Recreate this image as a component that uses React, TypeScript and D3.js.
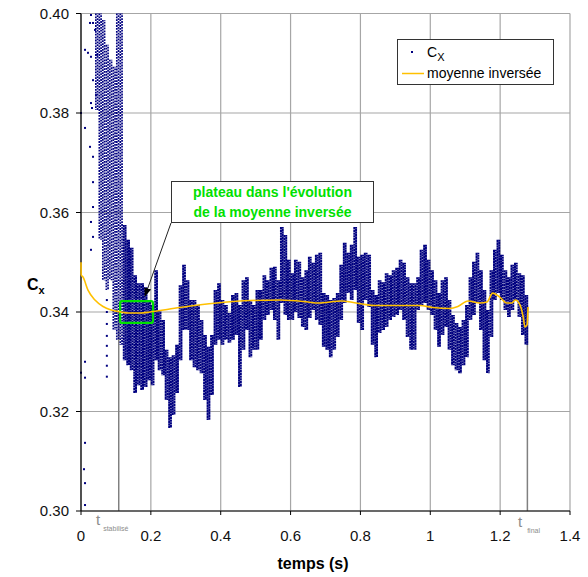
import React from "react";
import * as d3 from "d3";

// ---- data ----
const xTicks = [0, 0.2, 0.4, 0.6, 0.8, 1, 1.2, 1.4];
const xTickLabels = ["0", "0.2", "0.4", "0.6", "0.8", "1", "1.2", "1.4"];
const yTicks = [0.3, 0.32, 0.34, 0.36, 0.38, 0.4];
const yTickLabels = ["0.30", "0.32", "0.34", "0.36", "0.38", "0.40"];

// Cx envelope per 0.01 s bin: [bin start t, highest value, lowest value]
const binStart = [
  0.04, 0.05, 0.06, 0.07, 0.08, 0.09, 0.1, 0.11, 0.12, 0.13, 0.14, 0.15, 0.16, 0.17, 0.18, 0.19,
  0.2, 0.21, 0.22, 0.23, 0.24, 0.25, 0.26, 0.27, 0.28, 0.29, 0.3, 0.31, 0.32, 0.33, 0.34, 0.35,
  0.36, 0.37, 0.38, 0.39, 0.4, 0.41, 0.42, 0.43, 0.44, 0.45, 0.46, 0.47, 0.48, 0.49, 0.5, 0.51,
  0.52, 0.53, 0.54, 0.55, 0.56, 0.57, 0.58, 0.59, 0.6, 0.61, 0.62, 0.63, 0.64, 0.65, 0.66, 0.67,
  0.68, 0.69, 0.7, 0.71, 0.72, 0.73, 0.74, 0.75, 0.76, 0.77, 0.78, 0.79, 0.8, 0.81, 0.82, 0.83,
  0.84, 0.85, 0.86, 0.87, 0.88, 0.89, 0.9, 0.91, 0.92, 0.93, 0.94, 0.95, 0.96, 0.97, 0.98, 0.99,
  1.0, 1.01, 1.02, 1.03, 1.04, 1.05, 1.06, 1.07, 1.08, 1.09, 1.1, 1.11, 1.12, 1.13, 1.14, 1.15,
  1.16, 1.17, 1.18, 1.19, 1.2, 1.21, 1.22, 1.23, 1.24, 1.25, 1.26, 1.27,
];
const binHigh = [
  0.4, 0.4, 0.3987, 0.3937, 0.3907, 0.3893, 0.4, 0.4, 0.3575, 0.3545, 0.3529, 0.3474, 0.3458, 0.3458, 0.345, 0.3424,
  0.3414, 0.3484, 0.3404, 0.3384, 0.3324, 0.3309, 0.3313, 0.3334, 0.3454, 0.3495, 0.3464, 0.3424, 0.3424, 0.3414, 0.3384, 0.3354,
  0.333, 0.3354, 0.3444, 0.3458, 0.3424, 0.3414, 0.3398, 0.3434, 0.3438, 0.3414, 0.3464, 0.347, 0.3424, 0.3414, 0.3444, 0.3444,
  0.3474, 0.3464, 0.3489, 0.3491, 0.3464, 0.3571, 0.3555, 0.3505, 0.3478, 0.3505, 0.3501, 0.347, 0.3484, 0.3511, 0.3499, 0.3515,
  0.3519, 0.3438, 0.3434, 0.3424, 0.3428, 0.3438, 0.3495, 0.3539, 0.3519, 0.3535, 0.3571, 0.3511, 0.3515, 0.3519, 0.3515, 0.3444,
  0.3434, 0.3464, 0.346, 0.3478, 0.3474, 0.3484, 0.3489, 0.3505, 0.3499, 0.347, 0.3458, 0.3458, 0.347, 0.3525, 0.3535, 0.3505,
  0.3484, 0.3464, 0.3438, 0.3464, 0.347, 0.3424, 0.3394, 0.3378, 0.337, 0.3384, 0.3414, 0.347, 0.3501, 0.3519, 0.3484, 0.3444,
  0.3404, 0.3484, 0.3525, 0.3545, 0.3515, 0.3484, 0.347, 0.3495, 0.3499, 0.3478, 0.3474, 0.3434,
];
const binLow = [
  0.3806, 0.3545, 0.3464, 0.3444, 0.3464, 0.3364, 0.3344, 0.3334, 0.3303, 0.3293, 0.3283, 0.3237, 0.3253, 0.3243, 0.3249, 0.3263,
  0.3253, 0.3303, 0.3283, 0.3273, 0.3223, 0.3167, 0.3193, 0.3237, 0.3303, 0.3364, 0.3364, 0.3303, 0.3289, 0.3283, 0.3277, 0.3223,
  0.3183, 0.3233, 0.3334, 0.3344, 0.3334, 0.3344, 0.3338, 0.3344, 0.3354, 0.3249, 0.3324, 0.3364, 0.3309, 0.3324, 0.3324, 0.3344,
  0.3384, 0.3394, 0.3404, 0.3384, 0.3344, 0.3418, 0.3394, 0.3384, 0.3384, 0.34, 0.3388, 0.337, 0.3364, 0.3388, 0.3404, 0.3384,
  0.3374, 0.333, 0.3324, 0.3309, 0.3324, 0.335, 0.3384, 0.3418, 0.3438, 0.3424, 0.3444, 0.3378, 0.3364, 0.3424, 0.341, 0.3334,
  0.3309, 0.3358, 0.3364, 0.337, 0.3384, 0.339, 0.3394, 0.3404, 0.3384, 0.335, 0.3324, 0.3324, 0.3404, 0.3414, 0.3418, 0.3404,
  0.3394, 0.3364, 0.333, 0.3354, 0.337, 0.3324, 0.3293, 0.3283, 0.3277, 0.3293, 0.3309, 0.3384, 0.3394, 0.3418, 0.3364, 0.3303,
  0.3277, 0.335, 0.3424, 0.3438, 0.3424, 0.3404, 0.339, 0.3404, 0.3424, 0.339, 0.3354, 0.3334,
];

// isolated Cx points of the start-up phase
const sparseT = [
  0.0286, 0.0344, 0.0258, 0.0115, 0.02, 0.0286, 0.0344, 0.0286, 0.0315, 0.0, 0.0115, 0.0258, 0.0344, 0.0344,
  0.0344, 0.0286, 0.0344, 0.0286, 0.0429, 0.0458, 0.0401, 0.0115, 0.0, 0.0115, 0.0115, 0.0086, 0.0115, 0.0115,
  0.074, 0.074, 0.074, 0.074, 0.074, 0.074, 0.074, 0.074,
];
const sparseV = [
  0.3997, 0.3981, 0.3981, 0.3927, 0.3921, 0.3913, 0.3866, 0.382, 0.381, 0.38, 0.377, 0.3732, 0.3712, 0.3661,
  0.3611, 0.3581, 0.3551, 0.3525, 0.3836, 0.3917, 0.3967, 0.33, 0.3278, 0.3268, 0.3137, 0.3084, 0.3056, 0.3012,
  0.3424, 0.34, 0.3376, 0.3352, 0.3332, 0.3312, 0.3292, 0.327,
];

// "moyenne inversée" curve
const meanT = [
  0, 0.0005, 0.006, 0.02, 0.04, 0.063, 0.086, 0.115, 0.135, 0.17, 0.197, 0.283, 0.389, 0.484, 0.57, 0.65,
  0.678, 0.747, 0.805, 0.842, 0.913, 0.97, 1.008, 1.056, 1.079, 1.108, 1.142, 1.162, 1.179, 1.199, 1.219,
  1.234, 1.243, 1.257, 1.266, 1.271, 1.277, 1.28,
];
const meanV = [
  0.35, 0.3475, 0.347, 0.3444, 0.3424, 0.3411, 0.3404, 0.34, 0.3398, 0.3398, 0.34, 0.3409, 0.3418, 0.3423, 0.3424, 0.342,
  0.3418, 0.3422, 0.3416, 0.3413, 0.3413, 0.3413, 0.3409, 0.3407, 0.3411, 0.3422, 0.3418, 0.342, 0.3438, 0.343, 0.3418,
  0.3418, 0.3424, 0.3414, 0.339, 0.337, 0.3374, 0.341,
];

const tStab = 0.108;
const tFinal = 1.278;
const plateauT = [0.112, 0.206];
const plateauV = [0.3378, 0.3422];

const NAVY = "#000080";
const YELLOW = "#FFC000";
const GREEN = "#00E000";
const GRID = "#A6A6A6";
const FONT = "Arial, 'Liberation Sans', sans-serif";

export default function App() {
  const x = d3.scaleLinear().domain([0, 1.4]).range([81, 570]);
  const y = d3.scaleLinear().domain([0.3, 0.4]).range([511, 13.5]);

  const meanLine = d3
    .line<number>()
    .x((_, i) => x(meanT[i]))
    .y((_, i) => y(meanV[i]))
    .curve(d3.curveMonotoneX)(meanT as any);

  return (
    <svg width={588} height={577} style={{ position: "absolute", left: 0, top: 0, background: "#fff" }} fontFamily={FONT}>
      <defs>
        <clipPath id="plot">
          <rect x={x(0) - 1} y={y(0.4) - 1} width={x(1.4) - x(0) + 1} height={y(0.3) - y(0.4) + 1} />
        </clipPath>
        <marker id="arrow" viewBox="0 0 10 10" refX={9} refY={5} markerWidth={9} markerHeight={9} orient="auto">
          <path d="M0,1 L10,5 L0,9 z" fill="#000" />
        </marker>
      </defs>

      {/* grid */}
      {yTicks.map((v) => (
        <line key={"gy" + v} x1={x(0)} x2={x(1.4)} y1={y(v)} y2={y(v)} stroke={GRID} strokeWidth={1.2} />
      ))}
      {xTicks.map((v) => (
        <line key={"gx" + v} x1={x(v)} x2={x(v)} y1={y(0.4)} y2={y(0.3)} stroke={GRID} strokeWidth={1.2} />
      ))}

      {/* t markers */}
      <line x1={x(tStab)} x2={x(tStab)} y1={y(0.34)} y2={y(0.3)} stroke="#808080" strokeWidth={1.5} />
      <line x1={x(tFinal)} x2={x(tFinal)} y1={y(0.3412)} y2={y(0.3)} stroke="#808080" strokeWidth={1.5} />

      <g clipPath="url(#plot)">
        {/* Cx dense cloud */}
        {binStart.map((t, i) => {
          const early = t < 0.115;
          const xs = [t + 0.0025, t + 0.0075];
          return xs.map((tx, j) => (
            <line
              key={"b" + i + "_" + j}
              x1={x(tx)}
              x2={x(tx)}
              y1={y(binHigh[i])}
              y2={y(binLow[i])}
              stroke={NAVY}
              strokeWidth={early ? 1.7 : 2}
              strokeDasharray={early ? "1.8 1.1" : "2.4 0.35"}
              strokeDashoffset={j * 1.1}
            />
          ));
        })}
        {sparseT.map((t, i) => (
          <rect key={"s" + i} x={x(t) - 1} y={y(sparseV[i]) - 1} width={2} height={2} fill={NAVY} />
        ))}
      </g>

      {/* plateau rectangle */}
      <rect
        x={x(plateauT[0])}
        y={y(plateauV[1])}
        width={x(plateauT[1]) - x(plateauT[0])}
        height={y(plateauV[0]) - y(plateauV[1])}
        rx={2}
        fill="none"
        stroke={GREEN}
        strokeWidth={2.2}
      />

      {/* axes */}
      <line x1={x(0)} x2={x(0)} y1={y(0.4)} y2={y(0.3)} stroke="#000" strokeWidth={1.2} />
      <line x1={x(0)} x2={x(1.4)} y1={y(0.3)} y2={y(0.3)} stroke="#000" strokeWidth={1.2} />

      {/* mean curve drawn above the axis */}
      <path d={meanLine || ""} fill="none" stroke={YELLOW} strokeWidth={1.6} clipPath="url(#plot)" />

      {yTicks.map((v, i) => (
        <g key={"yt" + v}>
          <line x1={x(0) - 5} x2={x(0)} y1={y(v)} y2={y(v)} stroke="#000" />
          <text x={69} y={y(v) + 5} textAnchor="end" fontSize={15} fill="#111">
            {yTickLabels[i]}
          </text>
        </g>
      ))}
      {xTicks.map((v, i) => (
        <g key={"xt" + v}>
          <line x1={x(v)} x2={x(v)} y1={y(0.3)} y2={y(0.3) + 4} stroke="#000" />
          <text x={x(v)} y={541} textAnchor="middle" fontSize={15} fill="#111">
            {xTickLabels[i]}
          </text>
        </g>
      ))}

      {/* t labels */}
      <text x={96} y={525} fontSize={15} fill="#8c8c8c">
        t<tspan fontSize={7} dx={3} dy={6}>stabilisé</tspan>
      </text>
      <text x={518} y={527} fontSize={15} fill="#8c8c8c">
        t<tspan fontSize={7} dx={5} dy={6}>final</tspan>
      </text>

      {/* axis titles */}
      <text x={313} y={569} textAnchor="middle" fontSize={16} fontWeight="bold" fill="#000">
        temps (s)
      </text>
      <text x={27} y={290} fontSize={16} fontWeight="bold" fill="#000">
        C<tspan fontSize={11} dy={4}>x</tspan>
      </text>

      {/* annotation */}
      <line x1={171} y1={223} x2={145} y2={296} stroke="#222" strokeWidth={1} markerEnd="url(#arrow)" />
      <rect x={171.5} y={181.5} width={202} height={41} fill="#fff" stroke="#333" strokeWidth={1} />
      <text x={272.5} y={197} textAnchor="middle" fontSize={14} fontWeight="bold" fill={GREEN}>
        plateau dans l'évolution
      </text>
      <text x={272.5} y={217} textAnchor="middle" fontSize={14} fontWeight="bold" fill={GREEN}>
        de la moyenne inversée
      </text>

      {/* legend */}
      <rect x={397.5} y={39.5} width={156} height={45} fill="#fff" stroke="#333" strokeWidth={1} />
      <rect x={411} y={51} width={2} height={2} fill={NAVY} />
      <text x={427} y={57} fontSize={14} fill="#000">
        C<tspan fontSize={11} dy={4}>X</tspan>
      </text>
      <line x1={402} x2={424} y1={73.5} y2={73.5} stroke={YELLOW} strokeWidth={1.5} />
      <text x={427} y={78} fontSize={14} fill="#000">
        moyenne inversée
      </text>
    </svg>
  );
}
